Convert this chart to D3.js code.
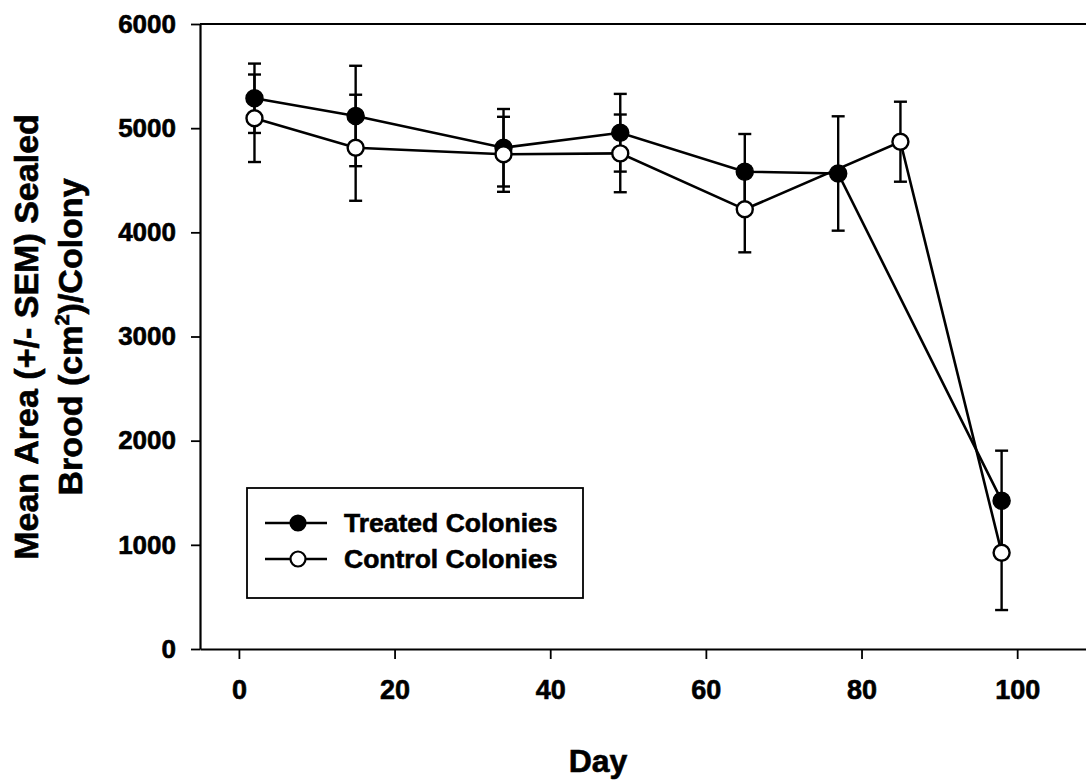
<!DOCTYPE html>
<html>
<head>
<meta charset="utf-8">
<script src="https://cdn.jsdelivr.net/npm/d3@7"></script>
<style>
  html, body { margin: 0; padding: 0; background: #fff; }
  svg { display: block; }
  text { font-family: "Liberation Sans", Arial, Helvetica, sans-serif; font-weight: bold; fill: #000; stroke: #000; stroke-width: 0.6px; }
</style>
</head>
<body>
<svg id="chart" width="1086" height="781"></svg>
<script>
// ---- data ----
const treatedDays = [2, 15, 34, 49, 65, 77, 98];
const treatedMean = [5287, 5117, 4812, 4956, 4582, 4565, 1424];
const treatedSEM  = [333, 482, 372, 373, 362, 549, 480];

const controlDays = [2, 15, 34, 49, 65, 85, 98];
const controlMean = [5095, 4812, 4749, 4758, 4221, 4870, 924];
const controlSEM  = [420, 509, 360, 373, 413, 384, 550];

const xTicks = [0, 20, 40, 60, 80, 100];
const yTicks = [0, 1000, 2000, 3000, 4000, 5000, 6000];
const seriesNames = ["Treated Colonies", "Control Colonies"];

const treated = treatedDays.map((d, i) => ({ day: d, mean: treatedMean[i], sem: treatedSEM[i] }));
const control = controlDays.map((d, i) => ({ day: d, mean: controlMean[i], sem: controlSEM[i] }));

// ---- scales ----
const svg = d3.select("#chart");
const x = d3.scaleLinear().domain([-5, 110]).range([200, 1095]);
const y = d3.scaleLinear().domain([0, 6000]).range([649, 24]);

// ---- frame / axes ----
const xAxis = d3.axisBottom(x).tickValues(xTicks).tickSize(10).tickSizeOuter(0).tickPadding(21).tickFormat(d3.format("d"));
const yAxis = d3.axisLeft(y).tickValues(yTicks).tickSize(9).tickSizeOuter(0).tickPadding(15).tickFormat(d3.format("d"));

const gx = svg.append("g").attr("transform", `translate(0,${y(0)})`).call(xAxis);
gx.select(".domain").attr("stroke", "#000").attr("stroke-width", 2.2);
gx.selectAll(".tick line").attr("stroke", "#000").attr("stroke-width", 1.8);
gx.selectAll(".tick text").attr("font-size", 27).attr("fill", "#000")
  .attr("font-family", "'Liberation Sans', Arial, sans-serif").attr("font-weight", "bold");

const gy = svg.append("g").attr("transform", `translate(${x(-5)},0)`).call(yAxis);
gy.select(".domain").attr("stroke", "#000").attr("stroke-width", 2.2);
gy.selectAll(".tick line").attr("stroke", "#000").attr("stroke-width", 1.8);
gy.selectAll(".tick text").attr("font-size", 26).attr("fill", "#000")
  .attr("font-family", "'Liberation Sans', Arial, sans-serif").attr("font-weight", "bold");

// top frame line
svg.append("line")
  .attr("x1", x(-5)).attr("x2", x(110))
  .attr("y1", y(6000)).attr("y2", y(6000))
  .attr("stroke", "#000").attr("stroke-width", 2.2);

// ---- axis titles ----
svg.append("text")
  .attr("x", 598).attr("y", 772)
  .attr("text-anchor", "middle").attr("font-size", 32)
  .text("Day");

const yl = svg.append("text")
  .attr("transform", "translate(38,337) rotate(-90)")
  .attr("text-anchor", "middle").attr("font-size", 34);
yl.append("tspan").attr("x", 0).attr("y", 0).text("Mean Area (+/- SEM) Sealed");
const yl2 = yl.append("tspan").attr("x", 0).attr("y", 44);
yl2.text("Brood (cm");
yl.append("tspan").attr("dy", -13).attr("font-size", 20).text("2");
yl.append("tspan").attr("dy", 13).text(")/Colony");

// ---- lines ----
const line = d3.line().x(d => x(d.day)).y(d => y(d.mean));
const plot = svg.append("g");

plot.append("path").datum(control).attr("d", line)
  .attr("fill", "none").attr("stroke", "#000").attr("stroke-width", 2.6);
plot.append("path").datum(treated).attr("d", line)
  .attr("fill", "none").attr("stroke", "#000").attr("stroke-width", 2.6);

// ---- error bars ----
function errorBars(data) {
  const g = plot.append("g").attr("stroke", "#000").attr("stroke-width", 2.4);
  const cap = 6.5;
  data.forEach(d => {
    const cx = x(d.day);
    g.append("line").attr("x1", cx).attr("x2", cx).attr("y1", y(d.mean - d.sem)).attr("y2", y(d.mean + d.sem));
    g.append("line").attr("x1", cx - cap).attr("x2", cx + cap).attr("y1", y(d.mean + d.sem)).attr("y2", y(d.mean + d.sem));
    g.append("line").attr("x1", cx - cap).attr("x2", cx + cap).attr("y1", y(d.mean - d.sem)).attr("y2", y(d.mean - d.sem));
  });
}
errorBars(treated);
errorBars(control);

// ---- markers ----
plot.append("g").selectAll("circle").data(treated).join("circle")
  .attr("cx", d => x(d.day)).attr("cy", d => y(d.mean)).attr("r", 8.5)
  .attr("fill", "#000").attr("stroke", "#000").attr("stroke-width", 1.5);
plot.append("g").selectAll("circle").data(control).join("circle")
  .attr("cx", d => x(d.day)).attr("cy", d => y(d.mean)).attr("r", 8)
  .attr("fill", "#fff").attr("stroke", "#000").attr("stroke-width", 2.4);

// ---- legend ----
const lg = svg.append("g");
lg.append("rect").attr("x", 247).attr("y", 488).attr("width", 336).attr("height", 110)
  .attr("fill", "#fff").attr("stroke", "#000").attr("stroke-width", 1.8);
const rows = [
  { name: seriesNames[0], fill: "#000", yy: 523 },
  { name: seriesNames[1], fill: "#fff", yy: 559 }
];
rows.forEach(r => {
  lg.append("line").attr("x1", 265).attr("x2", 327).attr("y1", r.yy).attr("y2", r.yy)
    .attr("stroke", "#000").attr("stroke-width", 2.4);
  lg.append("circle").attr("cx", 298).attr("cy", r.yy).attr("r", 7.5)
    .attr("fill", r.fill).attr("stroke", "#000").attr("stroke-width", 2.2);
  lg.append("text").attr("x", 344).attr("y", r.yy + 9).attr("font-size", 26.5).text(r.name);
});
</script>
</body>
</html>
